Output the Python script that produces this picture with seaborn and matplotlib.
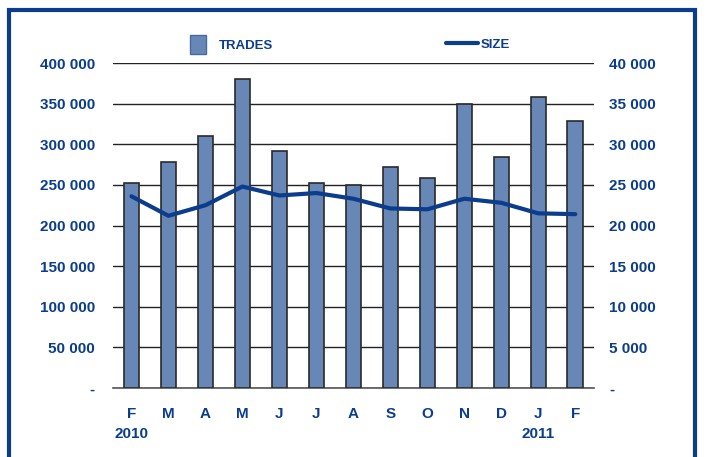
import numpy as np
import pandas as pd
import seaborn as sns
import matplotlib.pyplot as plt
from matplotlib.patches import Rectangle, Patch
from matplotlib.lines import Line2D
from matplotlib.ticker import FuncFormatter, FixedLocator

# data
periods = ["2010-02", "2010-03", "2010-04", "2010-05", "2010-06", "2010-07", "2010-08",
           "2010-09", "2010-10", "2010-11", "2010-12", "2011-01", "2011-02"]
month_labels = ["F", "M", "A", "M", "J", "J", "A", "S", "O", "N", "D", "J", "F"]
trades = [252000, 278000, 310000, 381000, 292000, 252000, 250000,
          272000, 259000, 349000, 284000, 358000, 329000]
size = [23600, 21200, 22500, 24800, 23700, 24000, 23300,
        22100, 22000, 23300, 22800, 21500, 21400]
year_labels = {0: "2010", 11: "2011"}

BLUE = "#0B3D8C"
BAR = "#6787B7"

sns.set_style("white")
plt.rcParams['font.family'] = ['Liberation Sans', 'DejaVu Sans']

df = pd.DataFrame({"period": periods, "trades": trades, "size": size})
df["pos"] = np.arange(len(df))


def spaced(v, p):
    return "-" if v == 0 else f"{int(v):,}".replace(",", " ")


fig = plt.figure(figsize=(7.06, 4.57), dpi=100)
ax = fig.add_axes([0.160, 0.151, 0.681, 0.711])

sns.barplot(data=df, x="period", y="trades", color=BAR, width=0.42,
            edgecolor="#2a2a2a", linewidth=1.2, saturation=1, ax=ax, zorder=3)
ax.set_ylim(0, 400000)
ax.set_xlim(-0.5, len(df) - 0.5)
ax.set_yticks(np.arange(0, 400001, 50000))
ax.yaxis.set_major_formatter(FuncFormatter(spaced))
ax.grid(axis="y", color="#222222", linewidth=1.0, zorder=0)
ax.set_axisbelow(True)
ax.set_xlabel("")
ax.set_ylabel("")
for s in ["top", "left", "right"]:
    ax.spines[s].set_visible(False)
ax.spines["bottom"].set_color("#555555")
ax.spines["bottom"].set_linewidth(1.2)

ax.set_xticks(df["pos"])
ax.set_xticklabels(month_labels)
ax.xaxis.set_minor_locator(FixedLocator(np.arange(-0.5, len(df), 1.0)))
ax.tick_params(axis="x", which="major", length=0, pad=14)
ax.tick_params(axis="x", which="minor", length=5, color="#333333", width=1, direction="out")
ax.tick_params(axis="y", length=0, pad=13)
for lab in ax.get_xticklabels() + ax.get_yticklabels():
    lab.set_color(BLUE)
    lab.set_fontweight("bold")
    lab.set_fontsize(11)

for i, yr in year_labels.items():
    ax.annotate(yr, xy=(i, 0), xycoords=("data", "axes fraction"),
                xytext=(0, -36), textcoords="offset points", ha="center",
                color=BLUE, fontweight="bold", fontsize=11)

ax2 = ax.twinx()
sns.lineplot(data=df, x="pos", y="size", color=BLUE, linewidth=3, ax=ax2, zorder=5)
ax2.set_ylim(0, 40000)
ax2.set_yticks(np.arange(0, 40001, 5000))
ax2.yaxis.set_major_formatter(FuncFormatter(spaced))
ax2.set_ylabel("")
ax2.tick_params(axis="y", length=0, pad=11)
for s in ax2.spines.values():
    s.set_visible(False)
for lab in ax2.get_yticklabels():
    lab.set_color(BLUE)
    lab.set_fontweight("bold")
    lab.set_fontsize(11)

# legend at the top, two separate entries
leg_font = {"weight": "bold", "size": 9.5}
fig.legend(handles=[Patch(facecolor=BAR, edgecolor="#4a6a9a", label="TRADES")],
           loc="center left", bbox_to_anchor=(0.252, 0.902), frameon=False,
           handlelength=1.2, handleheight=1.8, handletextpad=1.0,
           prop=leg_font, labelcolor=BLUE)
fig.legend(handles=[Line2D([0], [0], color=BLUE, linewidth=3, label="SIZE")],
           loc="center left", bbox_to_anchor=(0.615, 0.902), frameon=False,
           handlelength=2.4, handletextpad=0.25,
           prop=leg_font, labelcolor=BLUE)

# outer frame, open at the bottom edge of the image
fig.patches.append(Rectangle((9 / 706, -0.05), 686 / 706, 1 - 10 / 457 + 0.05,
                             transform=fig.transFigure, fill=False,
                             edgecolor="#0B3D8C", linewidth=3))

fig.savefig("out.png", dpi=100)
